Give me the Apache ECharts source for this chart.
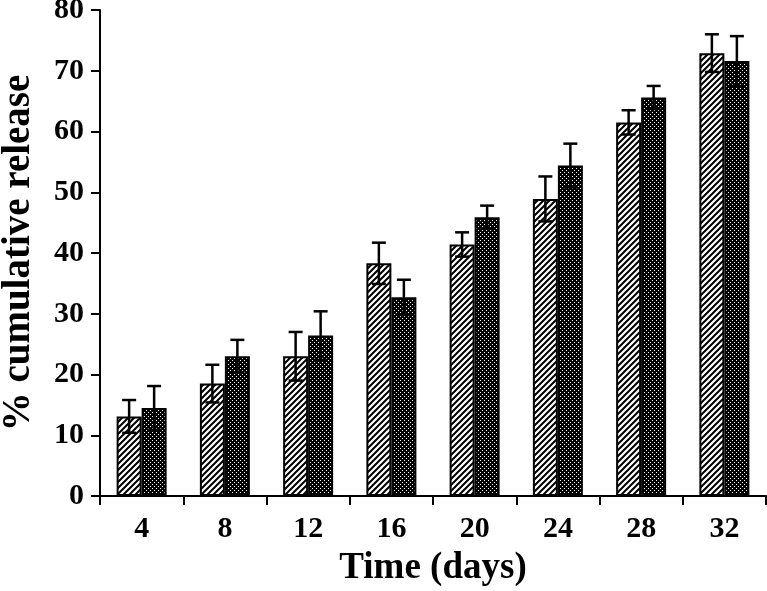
<!DOCTYPE html>
<html>
<head>
<meta charset="utf-8">
<script src="https://cdn.jsdelivr.net/npm/echarts@6/dist/echarts.min.js"></script>
<style>html,body{margin:0;padding:0;background:#fff;}#chart{width:767px;height:591px;}</style>
</head>
<body>
<div id="chart"></div>
<script>
const categories = ['4', '8', '12', '16', '20', '24', '28', '32'];
const seriesA = [13.1, 18.5, 23.0, 38.3, 41.4, 48.9, 61.5, 72.9];
const errorA = [2.7, 3.1, 4.0, 3.4, 2.0, 3.7, 2.0, 3.1];
const seriesB = [14.5, 23.0, 26.4, 32.7, 45.9, 54.4, 65.6, 71.6];
const errorB = [3.6, 2.7, 4.0, 2.9, 1.9, 3.6, 1.9, 4.1];
const yTicks = [0, 10, 20, 30, 40, 50, 60, 70, 80];

function hatchPattern() {
  const c = document.createElement('canvas');
  c.width = 6; c.height = 6;
  const g = c.getContext('2d');
  g.fillStyle = '#fff'; g.fillRect(0, 0, 6, 6);
  g.strokeStyle = '#000'; g.lineWidth = 2;
  g.beginPath();
  g.moveTo(-1, 7); g.lineTo(7, -1);
  g.moveTo(-4, 4); g.lineTo(4, -4);
  g.moveTo(2, 10); g.lineTo(10, 2);
  g.stroke();
  return c;
}
function dotPattern() {
  const c = document.createElement('canvas');
  c.width = 4; c.height = 4;
  const g = c.getContext('2d');
  g.fillStyle = '#000'; g.fillRect(0, 0, 4, 4);
  g.fillStyle = '#fff';
  g.fillRect(0, 0, 1, 1);
  g.fillRect(2, 2, 1, 1);
  return c;
}

const chart = echarts.init(document.getElementById('chart'));
const font = 'Liberation Serif';
const barW = 25;

function errSeries(vals, errs, offset) {
  return {
    type: 'custom',
    z: 10,
    data: vals.map((v, i) => [i, v, errs[i]]),
    renderItem: function (params, api) {
      const i = api.value(0), v = api.value(1), e = api.value(2);
      const top = api.coord([i, v + e]);
      const bot = api.coord([i, v - e]);
      const x = top[0] + offset;
      const cap = 7;
      const style = { stroke: '#000', lineWidth: 2.5 };
      return {
        type: 'group',
        children: [
          { type: 'line', shape: { x1: x, y1: top[1], x2: x, y2: bot[1] }, style },
          { type: 'line', shape: { x1: x - cap, y1: top[1], x2: x + cap, y2: top[1] }, style },
          { type: 'line', shape: { x1: x - cap, y1: bot[1], x2: x + cap, y2: bot[1] }, style }
        ]
      };
    }
  };
}

chart.setOption({
  animation: false,
  grid: { left: 100, right: 1, top: 10, bottom: 95, containLabel: false, outerBoundsMode: 'none' },
  xAxis: {
    type: 'category',
    data: categories,
    name: 'Time (days)',
    nameLocation: 'middle',
    nameGap: 54,
    nameTextStyle: { fontFamily: font, fontWeight: 'bold', fontSize: 37, color: '#000' },
    axisLine: { lineStyle: { color: '#000', width: 2 } },
    axisTick: { show: true, length: 9, lineStyle: { color: '#000', width: 2 } },
    axisLabel: { fontFamily: font, fontWeight: 'bold', fontSize: 30, color: '#000', margin: 18 }
  },
  yAxis: {
    type: 'value',
    min: yTicks[0],
    max: yTicks[yTicks.length - 1],
    interval: 10,
    name: '% cumulative release',
    nameLocation: 'middle',
    nameGap: 62,
    nameTextStyle: { fontFamily: font, fontWeight: 'bold', fontSize: 39, color: '#000' },
    axisLine: { show: true, lineStyle: { color: '#000', width: 2 } },
    axisTick: { show: true, length: 9, lineStyle: { color: '#000', width: 2 } },
    splitLine: { show: false },
    axisLabel: { fontFamily: font, fontWeight: 'bold', fontSize: 30, color: '#000', margin: 16 }
  },
  series: [
    {
      type: 'bar',
      data: seriesA,
      barWidth: barW,
      barGap: '0%',
      itemStyle: { color: { image: hatchPattern(), repeat: 'repeat' }, borderColor: '#000', borderWidth: 2 }
    },
    {
      type: 'bar',
      data: seriesB,
      barWidth: barW,
      barGap: '0%',
      itemStyle: { color: { image: dotPattern(), repeat: 'repeat' }, borderColor: '#000', borderWidth: 2 }
    },
    errSeries(seriesA, errorA, -barW / 2),
    errSeries(seriesB, errorB, barW / 2)
  ]
});
</script>
</body>
</html>
